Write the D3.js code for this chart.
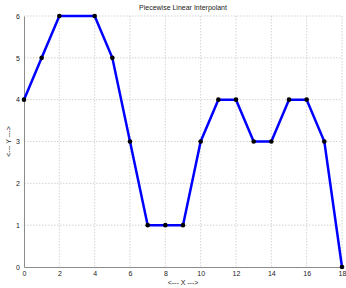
<!DOCTYPE html>
<meta charset="utf-8">
<style>
body { margin: 0; background: #fff; }
text { font-family: "Liberation Sans", Arial, sans-serif; }
</style>
<body>
<div id="chart"></div>
<script src="https://cdn.jsdelivr.net/npm/d3@7"></script>
<script>

// Data
var xs = [0, 1, 2, 4, 5, 6, 7, 8, 9, 10, 11, 12, 13, 14, 15, 16, 17, 18];
var ys = [4, 5, 6, 6, 5, 3, 1, 1, 1, 3, 4, 4, 3, 3, 4, 4, 3, 0];
var xTicks = [0, 2, 4, 6, 8, 10, 12, 14, 16, 18];
var yTicks = [0, 1, 2, 3, 4, 5, 6];
var title = "Piecewise Linear Interpolant";
var xLabel = "<--- X --->";
var yLabel = "<--- Y --->";

var width = 346, height = 288;
var padL = 24, padR = 342, padT = 16, padB = 267;

var svg = d3.select("#chart").append("svg")
    .attr("width", width).attr("height", height);

var x = d3.scaleLinear().domain([0, 18]).range([padL, padR]);
var y = d3.scaleLinear().domain([0, 6]).range([padB, padT]);

// grid
var gridG = svg.append("g")
    .attr("stroke", "#c8c8c8")
    .attr("stroke-width", 0.8)
    .attr("stroke-dasharray", "1.5,1.5");

gridG.selectAll("line.vx")
    .data(xTicks.filter(function(d) { return d > 0; }))
    .enter().append("line")
    .attr("x1", function(d) { return x(d); })
    .attr("x2", function(d) { return x(d); })
    .attr("y1", padT).attr("y2", padB);

gridG.selectAll("line.hy")
    .data(yTicks.filter(function(d) { return d > 0; }))
    .enter().append("line")
    .attr("y1", function(d) { return y(d); })
    .attr("y2", function(d) { return y(d); })
    .attr("x1", padL).attr("x2", padR);

// axes
var xAxis = svg.append("g")
    .attr("transform", "translate(0," + padB + ")")
    .call(d3.axisBottom(x).tickValues(xTicks).tickFormat(d3.format("d")).tickSize(0).tickPadding(4));
var yAxis = svg.append("g")
    .attr("transform", "translate(" + padL + ",0)")
    .call(d3.axisLeft(y).tickValues(yTicks).tickFormat(d3.format("d")).tickSize(0).tickPadding(4));

[xAxis, yAxis].forEach(function(a) {
  a.select(".domain").attr("stroke", "#8c8c8c").attr("stroke-width", 1);
  a.selectAll("text").attr("font-size", 7).attr("fill", "#222")
   .attr("font-family", "Liberation Sans, Arial, sans-serif");
});

// line
var pts = xs.map(function(d, i) { return [d, ys[i]]; });
svg.append("path")
    .datum(pts)
    .attr("fill", "none")
    .attr("stroke", "#0000ff")
    .attr("stroke-width", 2.5)
    .attr("d", d3.line().x(function(d) { return x(d[0]); }).y(function(d) { return y(d[1]); }));

svg.append("g").selectAll("circle")
    .data(pts)
    .enter().append("circle")
    .attr("cx", function(d) { return x(d[0]); })
    .attr("cy", function(d) { return y(d[1]); })
    .attr("r", 2.3)
    .attr("fill", "#000");

// labels
svg.append("text")
    .attr("x", (padL + padR) / 2).attr("y", 10)
    .attr("text-anchor", "middle")
    .attr("font-size", 7).attr("fill", "#222")
    .text(title);

svg.append("text")
    .attr("x", (padL + padR) / 2).attr("y", 285)
    .attr("text-anchor", "middle")
    .attr("font-size", 7).attr("fill", "#222")
    .text(xLabel);

svg.append("text")
    .attr("transform", "translate(11," + (padT + padB) / 2 + ") rotate(-90)")
    .attr("text-anchor", "middle")
    .attr("font-size", 7).attr("fill", "#222")
    .text(yLabel);

</script>
